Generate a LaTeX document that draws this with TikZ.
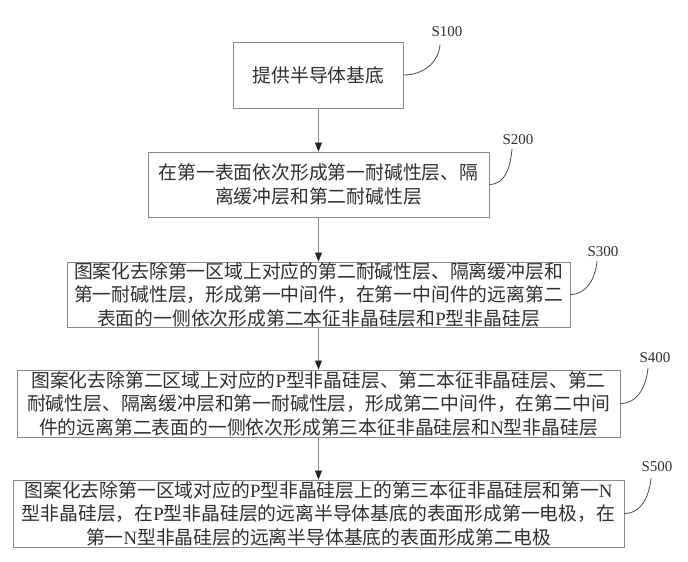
\documentclass[tikz,border=0pt]{standalone}
\usepackage{fontspec}
\setmainfont{Liberation Serif}
\newfontfamily\cjk{Noto Sans CJK SC}
\usetikzlibrary{arrows.meta}
\definecolor{boxgray}{HTML}{8A8A8A}
\definecolor{txt}{HTML}{303030}
\newcommand{\lat}[1]{{\rmfamily #1}}
\begin{document}
\begin{tikzpicture}[x=1pt,y=1pt,
  stepbox/.style={draw=boxgray, line width=0.9pt, text=txt, align=center, inner sep=0pt,
    font=\cjk\fontsize{18.8}{23.5}\selectfont},
  steplabel/.style={text=txt, inner sep=0pt, font=\rmfamily\fontsize{15}{18}\selectfont},
  flow/.style={draw=boxgray, line width=0.9pt, -{Triangle[length=9pt,width=7pt,color=black!85]}},
  hook/.style={draw=black!70, line width=0.8pt}]
\useasboundingbox (0,0) rectangle (688,562);
\fill[white] (0,0) rectangle (688,562);

\node[stepbox, minimum width=170pt, minimum height=66pt] (b1) at (318.5,487) {提供半导体基底};
\node[stepbox, minimum width=341pt, minimum height=65pt] (b2) at (318.5,377.5)
  {在第一表面依次形成第一耐碱性层、隔\\离缓冲层和第二耐碱性层};
\node[stepbox, minimum width=503pt, minimum height=65pt] (b3) at (318.5,267.5)
  {图案化去除第一区域上对应的第二耐碱性层、隔离缓冲层和\\第一耐碱性层，形成第一中间件，在第一中间件的远离第二\\表面的一侧依次形成第二本征非晶硅层和\lat{P}型非晶硅层};
\node[stepbox, minimum width=603pt, minimum height=67pt] (b4) at (318.5,158.5)
  {图案化去除第二区域上对应的\lat{P}型非晶硅层、第二本征非晶硅层、第二\\耐碱性层、隔离缓冲层和第一耐碱性层，形成第二中间件，在第二中间\\件的远离第二表面的一侧依次形成第三本征非晶硅层和\lat{N}型非晶硅层};
\node[stepbox, minimum width=611pt, minimum height=67pt] (b5) at (318.5,48.5)
  {图案化去除第一区域对应的\lat{P}型非晶硅层上的第三本征非晶硅层和第一\lat{N}\\型非晶硅层，在\lat{P}型非晶硅层的远离半导体基底的表面形成第一电极，在\\第一\lat{N}型非晶硅层的远离半导体基底的表面形成第二电极};

\draw[flow] (b1.south) -- (b2.north);
\draw[flow] (b2.south) -- (b3.north);
\draw[flow] (b3.south) -- (b4.north);
\draw[flow] (b4.south) -- (b5.north);

\node[steplabel] (l1) at (447,530) {S100};
\node[steplabel] (l2) at (518,422) {S200};
\node[steplabel] (l3) at (603,310) {S300};
\node[steplabel] (l4) at (655,204) {S400};
\node[steplabel] (l5) at (657,95) {S500};

\coordinate (e1) at (440,517);
\coordinate (e2) at (512,413);
\coordinate (e3) at (597,301);
\coordinate (e4) at (648,194);
\coordinate (e5) at (651,84);

\draw[hook] (b1.east) to[out=0,in=-95] (e1);
\draw[hook] (b2.east) to[out=0,in=-95] (e2);
\draw[hook] (b3.east) to[out=0,in=-95] (e3);
\draw[hook] (b4.east) to[out=0,in=-95] (e4);
\draw[hook] (b5.east) to[out=0,in=-95] (e5);
\end{tikzpicture}
\end{document}
